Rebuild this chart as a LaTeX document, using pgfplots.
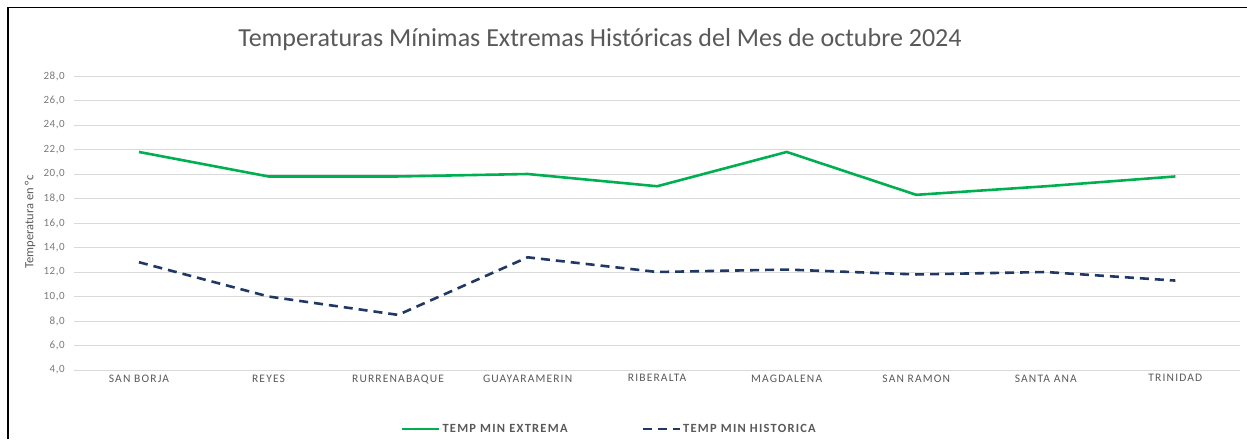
\documentclass[border=0pt]{standalone}
\usepackage{pgfplots}
\pgfplotsset{compat=1.18}
\usepackage{fontspec}
\setmainfont{Carlito}
\definecolor{cgreen}{HTML}{00B050}
\definecolor{cnavy}{HTML}{1F3864}
\definecolor{cgrid}{HTML}{D9D9D9}
\definecolor{ctext}{HTML}{595959}
\begin{document}
\begin{tikzpicture}[x=1pt,y=1pt]
\path[use as bounding box] (0,0) rectangle (1247,-439);
\begin{axis}[
  at={(74.2pt,-370pt)}, anchor=south west,
  scale only axis, width=1166pt, height=294pt,
  xmin=-0.5, xmax=8.5, ymin=4, ymax=28,
  ytick={4,6,...,28},
  xtick={0,...,8},
  xticklabels={SAN BORJA,REYES,RURRENABAQUE,GUAYARAMERIN,RIBERALTA,MAGDALENA,SAN RAMON,SANTA ANA,TRINIDAD},
  ymajorgrids, grid style={cgrid, line width=1pt},
  axis line style={draw=none},
  major tick length=0pt,
  /pgf/number format/assume math mode=true,
  /pgf/number format/.cd, fixed, fixed zerofill, precision=1, use comma,
  /pgfplots/.cd,
  yticklabel style={font=\fontsize{11}{12}\selectfont\addfontfeature{LetterSpace=5}, text=ctext!80, xshift=-6pt},
  xticklabel style={font=\fontsize{11.5}{13}\selectfont\addfontfeature{LetterSpace=10}, text=ctext, yshift=-1pt},
  legend columns=2,
  legend style={at={(0.459,-0.2)}, anchor=center, draw=none, fill=none,
    font=\fontsize{12.5}{14}\selectfont\bfseries\addfontfeature{LetterSpace=10}, text=ctext,
    /tikz/every even column/.append style={column sep=72pt}},
  legend image code/.code={\draw[#1] (0pt,0pt) -- (37pt,0pt);},
]
\addplot[cgreen, line width=2.6pt] coordinates {
(0,21.8) (1,19.8) (2,19.8) (3,20.0) (4,19.0) (5,21.8) (6,18.3) (7,19.0) (8,19.8)};
\addlegendentry{TEMP MIN EXTREMA}
\addplot[cnavy, line width=2.6pt, dash pattern=on 9pt off 6pt] coordinates {
(0,12.8) (1,10.0) (2,8.5) (3,13.2) (4,12.0) (5,12.2) (6,11.8) (7,12.0) (8,11.3)};
\addlegendentry{TEMP MIN HISTORICA}
\end{axis}
\node[rotate=90, font=\fontsize{12.5}{14}\selectfont, text=ctext] at (30,-222) {Temperatura en °c};
\node[font=\fontsize{26}{30}\selectfont, text=ctext] at (600,-40) {Temperaturas Mínimas Extremas Históricas del Mes de octubre 2024};
\draw[line width=1.6pt, black] (8,-439) -- (8,-7.5) -- (1247,-7.5);
\end{tikzpicture}
\end{document}
